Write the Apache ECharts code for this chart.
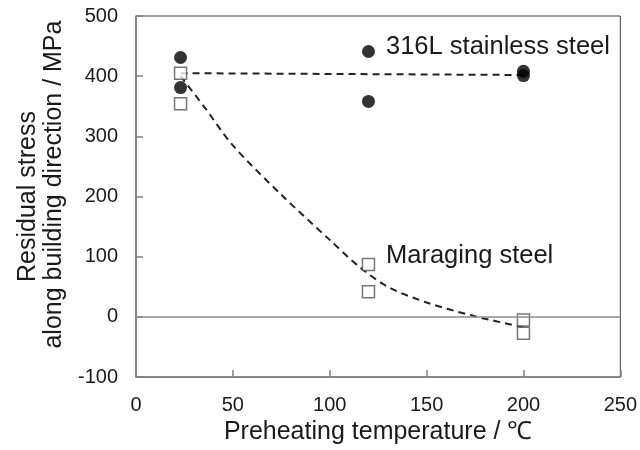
<!DOCTYPE html>
<html>
<head>
<meta charset="utf-8">
<script src="https://cdn.jsdelivr.net/npm/echarts@6/dist/echarts.min.js"></script>
<style>
  html, body { margin: 0; padding: 0; background: #fff; }
  #chart { width: 640px; height: 450px; }
</style>
</head>
<body>
<div id="chart"></div>
<script>
// axis ranges / ticks
var xMin = 0, xMax = 250, xStep = 50;
var yMin = -100, yMax = 500, yStep = 100;

// measured points (temperature, stress)
var steel316L = [[23, 431], [23, 381], [120, 441], [120, 358], [200, 408], [200, 401]];
var maraging = [[23, 405], [23, 354], [120, 87], [120, 42], [200, -5], [200, -27]];

// dashed trend lines
var trend316L = [[23, 405], [200, 402]];
var trendMaraging = [[23, 400], [35, 350], [50, 285], [75, 203], [100, 128], [115, 84], [130, 50], [150, 24], [175, 1], [200, -17]];

var font = "'Liberation Sans', Arial, sans-serif";
var textColor = '#1a1a1a';
var axisGray = '#808080';

var chart = echarts.init(document.getElementById('chart'));
chart.setOption({
    animation: false,
    grid: {
        left: 136, right: 18, top: 16, bottom: 72,
        show: true, borderColor: '#404040', borderWidth: 1
    },
    xAxis: {
        type: 'value',
        min: xMin, max: xMax, interval: xStep,
        name: 'Preheating temperature / \u2103',
        nameLocation: 'middle',
        nameGap: 42,
        nameTextStyle: { fontSize: 25, color: textColor, fontFamily: font },
        axisLine: { show: true, onZero: false, lineStyle: { color: axisGray, width: 1.5 } },
        axisTick: { show: true, inside: true, length: 7, lineStyle: { color: axisGray, width: 1.5 } },
        axisLabel: { fontSize: 20, color: textColor, fontFamily: font, margin: 18 },
        splitLine: { show: false }
    },
    yAxis: {
        type: 'value',
        min: yMin, max: yMax, interval: yStep,
        name: '{a|Residual stress}\n{b|along building direction / MPa}',
        nameLocation: 'middle',
        nameRotate: 90,
        nameGap: 59,
        nameTextStyle: {
            fontSize: 25, color: textColor, fontFamily: font, lineHeight: 26, align: 'center',
            rich: {
                a: { fontSize: 25, fontFamily: font, color: textColor, lineHeight: 26 },
                b: { fontSize: 25, fontFamily: font, color: textColor, lineHeight: 26, padding: [0, 0, 0, 24] }
            }
        },
        axisLine: { show: true, onZero: false, lineStyle: { color: axisGray, width: 1.5 } },
        axisTick: { show: true, inside: true, length: 7, lineStyle: { color: axisGray, width: 1.5 } },
        axisLabel: { fontSize: 20, color: textColor, fontFamily: font, margin: 18 },
        splitLine: { show: false }
    },
    graphic: [
        { type: 'text', x: 386, y: 47, style: { text: '316L stainless steel', fontSize: 25.5, fontFamily: font, fill: textColor, verticalAlign: 'middle' } },
        { type: 'text', x: 386, y: 256, style: { text: 'Maraging steel', fontSize: 25.5, fontFamily: font, fill: textColor, verticalAlign: 'middle' } }
    ],
    series: [
        {
            type: 'line',
            data: trend316L,
            symbol: 'none',
            lineStyle: { color: '#222', width: 2, type: [7, 5] },
            markLine: {
                silent: true,
                symbol: 'none',
                label: { show: false },
                lineStyle: { color: '#8c8c8c', type: 'solid', width: 1.5 },
                data: [{ yAxis: 0 }]
            },
            z: 2
        },
        {
            type: 'line',
            data: trendMaraging,
            symbol: 'none',
            smooth: 0.3,
            lineStyle: { color: '#222', width: 2, type: [7, 5] },
            z: 2
        },
        {
            type: 'scatter',
            data: maraging,
            symbol: 'rect',
            symbolSize: 12,
            itemStyle: { color: '#fff', borderColor: '#555', borderWidth: 1.5 },
            z: 3
        },
        {
            type: 'scatter',
            data: steel316L,
            symbol: 'circle',
            symbolSize: 13,
            itemStyle: { color: '#000' },
            z: 4
        }
    ]
});
</script>
</body>
</html>
